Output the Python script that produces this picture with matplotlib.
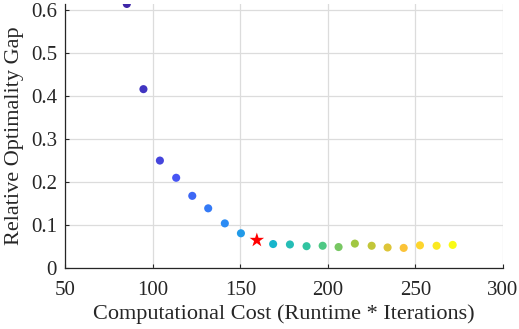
import numpy as np
import matplotlib
matplotlib.use('Agg')
import matplotlib.pyplot as plt
from matplotlib.colors import LinearSegmentedColormap

plt.rcParams["font.family"] = ["Liberation Serif", "DejaVu Serif"]

# cost vs. gap for each configuration
cost = [85.1, 94.6, 104.0, 113.3, 122.5, 131.6, 141.1, 150.3, 159.4,
        168.7, 178.3, 187.8, 197.0, 206.1, 215.4, 225.0, 234.1, 243.3,
        252.6, 262.1, 271.3]
gap = [0.614, 0.416, 0.250, 0.210, 0.168, 0.139, 0.104, 0.081, 0.065,
       0.056, 0.055, 0.051, 0.052, 0.049, 0.057, 0.052, 0.048, 0.047,
       0.053, 0.052, 0.054]
best = 8  # chosen configuration, drawn as a star

xticks = [50, 100, 150, 200, 250, 300]
yticks = [0, 0.1, 0.2, 0.3, 0.4, 0.5, 0.6]
ytick_labels = ["0", "0.1", "0.2", "0.3", "0.4", "0.5", "0.6"]

# parula-like colormap
parula = LinearSegmentedColormap.from_list("parula", [
    (0.2422, 0.1504, 0.6603),
    (0.2810, 0.3228, 0.9579),
    (0.1786, 0.5289, 0.9682),
    (0.0689, 0.6948, 0.8394),
    (0.2161, 0.7843, 0.5923),
    (0.6720, 0.7793, 0.2227),
    (0.9970, 0.7659, 0.2199),
    (0.9769, 0.9839, 0.0805),
])

n = len(cost)
colors = [parula(i / (n - 1)) for i in range(n)]
others = [i for i in range(n) if i != best]

fig = plt.figure(figsize=(5.19, 3.29), dpi=100)
ax = fig.add_axes([0.126, 0.185, 0.843, 0.803])

ax.scatter([cost[i] for i in others], [gap[i] for i in others],
           c=[colors[i] for i in others], s=34, edgecolors='none', zorder=3)
ax.scatter(cost[best], gap[best], marker='*', s=120, color='#ff0000',
           edgecolors='none', zorder=4)

ax.set_xlim(50, 300)
ax.set_ylim(0, 0.614)
ax.set_xticks(xticks)
ax.set_yticks(yticks)
ax.set_yticklabels(ytick_labels)

ax.grid(True, color='#dcdcdc', linewidth=0.9)
ax.set_axisbelow(True)
for side in ['top', 'right']:
    ax.spines[side].set_visible(False)
for side in ['left', 'bottom']:
    ax.spines[side].set_color('#262626')
    ax.spines[side].set_linewidth(0.9)
ax.tick_params(direction='in', length=3, width=0.8, colors='#262626',
               labelsize=15)
ax.tick_params(axis='x', pad=9)
ax.tick_params(axis='y', pad=6)

ax.set_xlabel("Computational Cost (Runtime * Iterations)", fontsize=16,
              color='#262626', labelpad=3)
ax.set_ylabel("Relative Optimality Gap", fontsize=16, color='#262626',
              labelpad=5)

fig.savefig("out.png", dpi=100)
